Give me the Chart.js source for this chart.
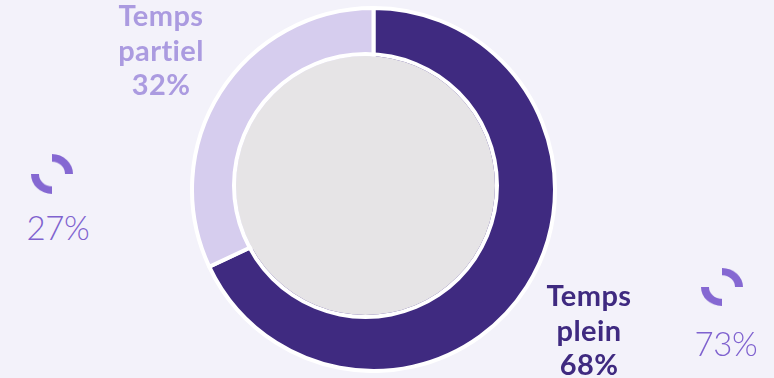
<!DOCTYPE html>
<html>
<head>
<meta charset="utf-8">
<script src="https://cdn.jsdelivr.net/npm/chart.js@4"></script>
<style>
    html, body { margin: 0; padding: 0; background: #f3f2fa; }
    body { position: relative; width: 774px; height: 378px; overflow: hidden; font-family: Lato, sans-serif; }
    .box { position: absolute; }
    .label { position: absolute; text-align: center; font-weight: 700; font-size: 29px; letter-spacing: 0.4px; line-height: 34.5px; width: 160px; }
    .stat { position: absolute; text-align: center; font-weight: 300; font-size: 33px; letter-spacing: -0.4px; line-height: 40px; width: 100px; color: #7f62cf; }
</style>
</head>
<body>
<div class="box" style="left:189.5px;top:5.5px;width:367px;height:367px"><canvas id="mainPie"></canvas></div>
<div class="box" style="left:232px;top:52px;width:267px;height:267px"><canvas id="centerDisc"></canvas></div>
<div class="box" style="left:31px;top:153px;width:42px;height:42px;transform:scaleY(0.95)"><canvas id="iconLeft"></canvas></div>
<div class="box" style="left:701px;top:266px;width:42px;height:42px;transform:scaleY(0.905)"><canvas id="iconRight"></canvas></div>

<div class="label" id="labelPartiel" style="left:81px;top:-2px;color:#ab9be0"></div>
<div class="label" id="labelPlein" style="left:509px;top:278px;color:#3f2a80"></div>
<div class="stat" id="statLeft" style="left:8px;top:207px"></div>
<div class="stat" id="statRight" style="left:676px;top:323px"></div>

<script>
const categories = ['Temps plein', 'Temps partiel'];
const shares = [68, 32];
const sliceColors = ['#3f2a80', '#d6cdee'];
const statValues = [27, 73];
const iconSegments = [1, 1, 1, 1];

Chart.defaults.animation = false;
Chart.defaults.responsive = true;
Chart.defaults.maintainAspectRatio = false;
Chart.defaults.plugins.legend.display = false;
Chart.defaults.plugins.tooltip.enabled = false;

// Main split, full pie with the disc sitting on top of it
new Chart(document.getElementById('mainPie'), {
    type: 'pie',
    data: {
        labels: categories,
        datasets: [{
            data: shares,
            backgroundColor: sliceColors,
            borderColor: '#ffffff',
            borderWidth: 4
        }]
    }
});

// Grey disc: white outer ring plus a filled inner one, so no radial seam shows
new Chart(document.getElementById('centerDisc'), {
    type: 'pie',
    data: {
        datasets: [
            { data: [1], backgroundColor: '#ffffff', borderColor: '#ffffff', borderWidth: 0, weight: 4 },
            { data: [1], backgroundColor: '#e6e4e6', borderColor: '#e6e4e6', borderWidth: 0, weight: 129 }
        ]
    }
});

// Small ring icons next to the two percentages
function drawIcon(id) {
    new Chart(document.getElementById(id), {
        type: 'doughnut',
        data: {
            datasets: [{
                data: iconSegments,
                backgroundColor: ['#8568d2', 'transparent', '#8568d2', 'transparent'],
                borderWidth: 0
            }]
        },
        options: { cutout: '62%' }
    });
}
drawIcon('iconLeft');
drawIcon('iconRight');

// Text blocks
function labelHtml(name, value) {
    return name.split(' ').join('<br>') + '<br>' + value + '%';
}
document.getElementById('labelPlein').innerHTML = labelHtml(categories[0], shares[0]);
document.getElementById('labelPartiel').innerHTML = labelHtml(categories[1], shares[1]);
document.getElementById('statLeft').textContent = statValues[0] + '%';
document.getElementById('statRight').textContent = statValues[1] + '%';
</script>
</body>
</html>
